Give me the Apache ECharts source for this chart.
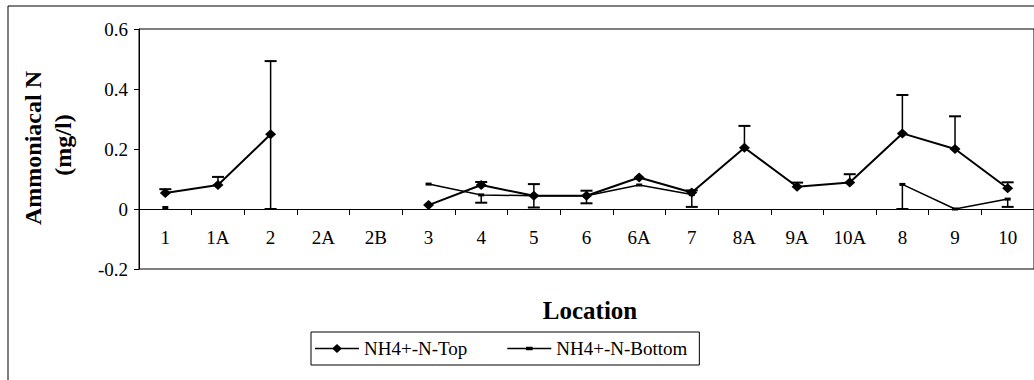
<!DOCTYPE html>
<html>
<head>
<meta charset="utf-8">
<script src="https://cdn.jsdelivr.net/npm/echarts@6/dist/echarts.min.js"></script>
<style>
html,body{margin:0;padding:0;background:#fff;}
#chart{width:1034px;height:380px;}
</style>
</head>
<body>
<div id="chart"></div>
<script>
const categories = ['1','1A','2','2A','2B','3','4','5','6','6A','7','8A','9A','10A','8','9','10'];
const topValues = [0.053, 0.08, 0.249, null, null, 0.013, 0.08, 0.044, 0.044, 0.105, 0.055, 0.204, 0.074, 0.088, 0.252, 0.2, 0.069];
const topErrPlus = [0.013, 0.027, 0.244, null, null, 0, 0.01, 0.039, 0.017, 0, 0.007, 0.073, 0.014, 0.028, 0.128, 0.109, 0.02];
const topErrMinus = [0, 0, 0.249, null, null, 0, 0, 0, 0, 0, 0, 0, 0, 0, 0, 0, 0];
const bottomValues = [0.005, null, null, null, null, 0.083, 0.047, 0.044, 0.044, 0.08, 0.048, null, null, null, 0.082, 0.0, 0.033];
const bottomErrMinus = [0, null, null, null, null, 0, 0.026, 0.039, 0.025, 0, 0.041, null, null, null, 0.082, 0, 0.026];
const yTicks = [-0.2, 0, 0.2, 0.4, 0.6];

const FONT = 'Liberation Serif';

function errData(vals, errs, sign) {
  const out = [];
  vals.forEach((v, i) => {
    const e = errs[i];
    if (v != null && e) out.push([i, v, v + sign * e]);
  });
  return out;
}

function errRender(params, api) {
  const x = api.value(0);
  const p0 = api.coord([x, api.value(1)]);
  const p1 = api.coord([x, api.value(2)]);
  const cap = 6;
  return {
    type: 'group',
    children: [
      {type: 'line', shape: {x1: p0[0], y1: p0[1], x2: p1[0], y2: p1[1]}, style: {stroke: '#000', lineWidth: 1.5}},
      {type: 'line', shape: {x1: p1[0] - cap, y1: p1[1], x2: p1[0] + cap, y2: p1[1]}, style: {stroke: '#000', lineWidth: 2}}
    ]
  };
}

const GRID_TOP = 29, GRID_H = 240;
const chart = echarts.init(document.getElementById('chart'), null, {renderer: 'svg'});
chart.setOption({
  animation: false,
  backgroundColor: '#fff',
  grid: {left: 139, top: GRID_TOP, height: GRID_H, right: -11, show: true, borderColor: '#000', borderWidth: 1, containLabel: false},
  xAxis: {
    type: 'category',
    data: categories,
    boundaryGap: true,
    position: 'bottom',
    offset: -60,
    axisLine: {onZero: false, lineStyle: {color: '#000', width: 1}},
    axisTick: {show: true, interval: 0, length: 6, inside: false, lineStyle: {color: '#000'}},
    axisLabel: {interval: 0, margin: 19, color: '#000', fontFamily: FONT, fontSize: 19},
    splitLine: {show: false}
  },
  yAxis: {
    type: 'value',
    min: yTicks[0],
    max: yTicks[yTicks.length - 1],
    interval: 0.2,
    axisLine: {show: true, lineStyle: {color: '#000'}},
    axisTick: {show: true, length: 5, lineStyle: {color: '#000'}},
    axisLabel: {margin: 11, color: '#000', fontFamily: FONT, fontSize: 19,
      formatter: v => Math.abs(v) < 1e-9 ? '0' : v.toFixed(1)},
    splitLine: {show: false}
  },
  legend: {
    data: [
      {name: 'NH4+-N-Top', icon: 'path://M0,4.3L40,4.3L40,5.7L0,5.7Z M20,1L24.5,5L20,9L15.5,5Z'},
      {name: 'NH4+-N-Bottom', icon: 'path://M0,4.3L40,4.3L40,5.7L0,5.7Z M17,3.4L23,3.4L23,6.6L17,6.6Z'}
    ],
    left: 311, top: 332,
    itemWidth: 44, itemHeight: 10, itemGap: 40,
    padding: [7, 12, 7, 4],
    borderColor: '#000', borderWidth: 1,
    textStyle: {color: '#000', fontFamily: FONT, fontSize: 19}
  },
  graphic: [
    {type: 'rect', shape: {x: 8, y: 6, width: 1200, height: 600}, style: {fill: 'none', stroke: '#000', lineWidth: 1}, silent: true},
    {type: 'text', x: 33, y: 148, rotation: Math.PI / 2, style: {text: 'Ammoniacal N', fontFamily: FONT, fontWeight: 'bold', fontSize: 24, fill: '#000', align: 'center', verticalAlign: 'middle'}},
    {type: 'text', x: 63, y: 145, rotation: Math.PI / 2, style: {text: '(mg/l)', fontFamily: FONT, fontWeight: 'bold', fontSize: 24, fill: '#000', align: 'center', verticalAlign: 'middle'}},
    {type: 'text', x: 590, y: 310, style: {text: 'Location', fontFamily: FONT, fontWeight: 'bold', fontSize: 25, fill: '#000', align: 'center', verticalAlign: 'middle'}}
  ],
  series: [
    {name: 'NH4+-N-Top', type: 'line', data: topValues, connectNulls: false,
      symbol: 'diamond', symbolSize: [11, 10], showSymbol: true,
      lineStyle: {color: '#000', width: 2}, itemStyle: {color: '#000'}, z: 3},
    {name: 'NH4+-N-Bottom', type: 'line', data: bottomValues, connectNulls: false,
      symbol: 'rect', symbolSize: [6, 3], showSymbol: true,
      lineStyle: {color: '#000', width: 1.5}, itemStyle: {color: '#000'}, z: 2},
    {name: 'topErrPlus', type: 'custom', data: errData(topValues, topErrPlus, 1), renderItem: errRender, z: 4},
    {name: 'topErrMinus', type: 'custom', data: errData(topValues, topErrMinus, -1), renderItem: errRender, z: 4},
    {name: 'bottomErrMinus', type: 'custom', data: errData(bottomValues, bottomErrMinus, -1), renderItem: errRender, z: 4}
  ]
});
</script>
</body>
</html>
